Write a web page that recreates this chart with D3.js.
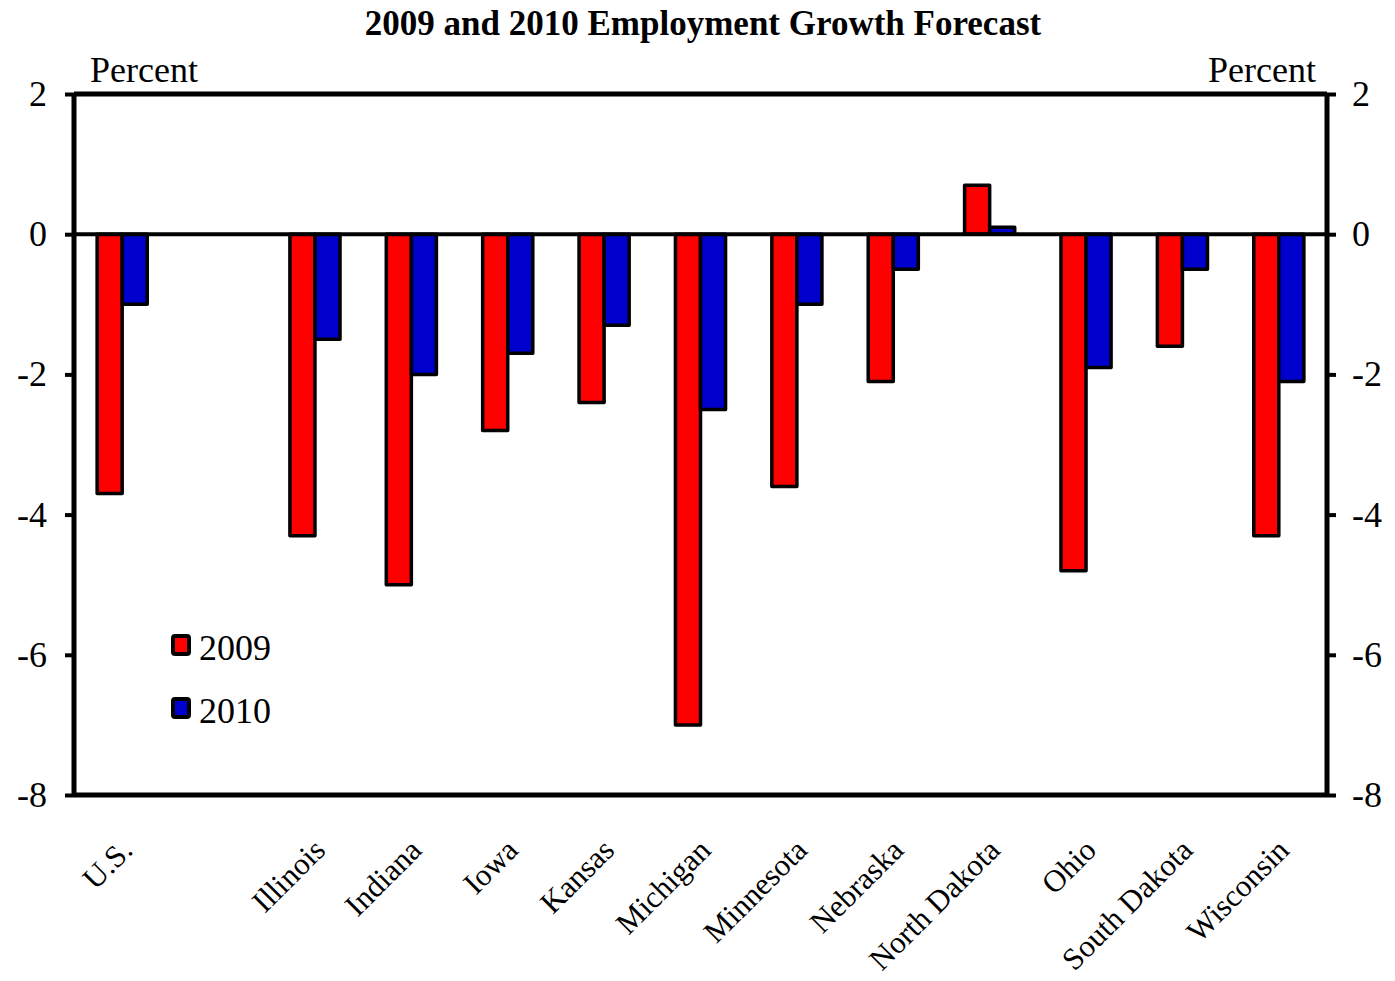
<!DOCTYPE html>
<html>
<head>
<meta charset="utf-8">
<script src="https://cdn.jsdelivr.net/npm/d3@7"></script>
<style>
  body { margin: 0; background: #fff; }
  text { font-family: "Liberation Serif", "Times New Roman", serif; fill: #000; }
</style>
</head>
<body>
<script>
// categories, with an empty slot after U.S.
var categories = ["U.S.", " ", "Illinois", "Indiana", "Iowa", "Kansas", "Michigan",
  "Minnesota", "Nebraska", "North Dakota", "Ohio", "South Dakota", "Wisconsin"];
var values2009 = [-3.7, null, -4.3, -5.0, -2.8, -2.4, -7.0, -3.6, -2.1, 0.7, -4.8, -1.6, -4.3];
var values2010 = [-1.0, null, -1.5, -2.0, -1.7, -1.3, -2.5, -1.0, -0.5, 0.1, -1.9, -0.5, -2.1];
var yTicks = [2, 0, -2, -4, -6, -8];
var seriesNames = ["2009", "2010"];
var colors = ["#ff0000", "#0000cc"];

var W = 1395, H = 981;
var mLeft = 74, mRight = 1327, mTop = 94, mBottom = 795;

var svg = d3.select('body').append('svg')
  .attr("width", W)
  .attr("height", H);

var x = d3.scaleBand().domain(categories).range([mLeft, mRight]).padding(0);
var y = d3.scaleLinear().domain([-8, 2]).range([mBottom, mTop]);
var bw = x.bandwidth() * 0.26;

// title
svg.append("text")
  .attr("x", 703).attr("y", 35)
  .attr("text-anchor", "middle")
  .style("font-size", "35px").style("font-weight", "bold")
  .text("2009 and 2010 Employment Growth Forecast");

svg.append("text").attr("x", 90).attr("y", 82)
  .style("font-size", "36px").text("Percent");
svg.append("text").attr("x", 1316).attr("y", 82)
  .attr("text-anchor", "end")
  .style("font-size", "36px").text("Percent");

// bars
var rows = categories.map(function (c, i) {
  return { cat: c, v: [values2009[i], values2010[i]] };
}).filter(function (d) { return d.v[0] !== null; });

seriesNames.forEach(function (s, k) {
  svg.selectAll("rect.s" + k)
    .data(rows)
    .enter()
    .append("rect")
    .attr("class", "s" + k)
    .attr("x", function (d) { return x(d.cat) + x.bandwidth() / 2 - bw + k * bw; })
    .attr("y", function (d) { return y(Math.max(0, d.v[k])); })
    .attr("width", bw)
    .attr("height", function (d) { return Math.abs(y(d.v[k]) - y(0)); })
    .attr("fill", colors[k])
    .attr("stroke", "#000")
    .attr("stroke-width", 3.5)
    .attr("stroke-linejoin", "round");
});

// frame
var axisStroke = 5;
svg.append("line").attr("x1", mLeft).attr("x2", mRight).attr("y1", y(2)).attr("y2", y(2))
  .attr("stroke", "#000").attr("stroke-width", axisStroke);
svg.append("line").attr("x1", mLeft).attr("x2", mRight).attr("y1", y(-8)).attr("y2", y(-8))
  .attr("stroke", "#000").attr("stroke-width", axisStroke);
svg.append("line").attr("x1", mLeft).attr("x2", mRight).attr("y1", y(0)).attr("y2", y(0))
  .attr("stroke", "#000").attr("stroke-width", 4);

// y axes (plain hyphen for negatives, like the original)
var fmt = function (d) { return String(d); };
var leftAxis = svg.append("g").attr("transform", "translate(" + mLeft + ",0)")
  .call(d3.axisLeft(y).tickValues(yTicks).tickSize(9).tickPadding(18).tickFormat(fmt));
var rightAxis = svg.append("g").attr("transform", "translate(" + mRight + ",0)")
  .call(d3.axisRight(y).tickValues(yTicks).tickSize(9).tickPadding(16).tickFormat(fmt));
[leftAxis, rightAxis].forEach(function (g) {
  g.select(".domain").attr("stroke", "#000").attr("stroke-width", axisStroke);
  g.selectAll(".tick line").attr("stroke", "#000").attr("stroke-width", 4);
  g.selectAll(".tick text")
    .style("font-size", "36px")
    .style("font-family", "'Liberation Serif', 'Times New Roman', serif")
    .attr("fill", "#000");
});
leftAxis.select(".domain").attr("d", "M0," + mTop + "V" + mBottom);
rightAxis.select(".domain").attr("d", "M0," + mTop + "V" + mBottom);

// x labels
svg.selectAll("text.xlab")
  .data(categories.filter(function (c) { return c.trim() !== ""; }))
  .enter()
  .append("text")
  .attr("class", "xlab")
  .attr("text-anchor", "end")
  .attr("transform", function (d) {
    return "translate(" + (x(d) + x.bandwidth() / 2 + 12) + ",852) rotate(-45)";
  })
  .style("font-size", "31px")
  .text(function (d) { return d; });

// legend
var legend = svg.append("g").attr("transform", "translate(173,636)");
seriesNames.forEach(function (s, k) {
  var g = legend.append("g").attr("transform", "translate(0," + (k * 63) + ")");
  g.append("rect").attr("x", 0).attr("y", 0).attr("width", 16).attr("height", 18)
    .attr("fill", colors[k]).attr("stroke", "#000").attr("stroke-width", 4)
    .attr("rx", 2);
  g.append("text").attr("x", 26).attr("y", 24)
    .style("font-size", "36px").text(s);
});
</script>
</body>
</html>
